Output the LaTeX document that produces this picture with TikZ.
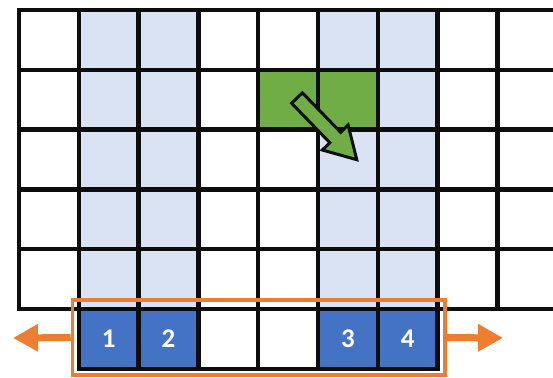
\documentclass[tikz,border=0pt]{standalone}
\usepackage{fontspec}
\setmainfont{Carlito}
\usetikzlibrary{arrows.meta}
\definecolor{lightblue}{HTML}{DAE3F3}
\definecolor{darkblue}{HTML}{4472C4}
\definecolor{greenc}{HTML}{70AD47}
\definecolor{orangec}{HTML}{ED7D31}
\definecolor{gridc}{HTML}{0D0D0D}
\tikzset{
  gridline/.style={draw=gridc, line width=4.5pt, line cap=rect},
  numcell/.style={fill=darkblue, minimum width=59.8pt, minimum height=59.8pt, inner sep=0pt, text=white, font=\bfseries\fontsize{27}{27}\selectfont},
  selbox/.style={draw=orangec, line width=3.5pt, minimum width=372.5pt, minimum height=75pt, inner sep=0pt},
  orangearrow/.style={draw=orangec, line width=7pt, -{Triangle[length=25pt,width=26pt]}},
  greenarrow/.style={fill=greenc, draw=gridc, line width=3pt, line join=miter}
}
\begin{document}
\begin{tikzpicture}[x={(1pt,0)}, y={(0,-1pt)}]
\path[use as bounding box] (0,0) rectangle (553,377);
\clip (0,0) rectangle (553,377);
\fill[white] (0,0) rectangle (553,377);
% light blue columns
\fill[lightblue] (78.8,10) rectangle (198.4,309);
\fill[lightblue] (318,10) rectangle (437.6,309);
% green cells
\fill[greenc] (258.2,69.8) rectangle (377.8,129.6);
% numbered cells
\node[numcell] (n1) at (108.7,338.9) {1};
\node[numcell] (n2) at (168.5,338.9) {2};
\node[numcell] (n3) at (347.9,338.9) {3};
\node[numcell] (n4) at (407.7,338.9) {4};
% upper grid
\foreach \x in {19,78.8,138.6,198.4,258.2,318,377.8,437.6,497.4}
  \draw[gridline] (\x,10) -- (\x,309);
\foreach \y in {10,69.8,129.6,189.4,249.2,309}
  \draw[gridline] (19,\y) -- (560,\y);
% bottom row
\foreach \x in {78.8,138.6,198.4,258.2,318,377.8,437.6}
  \draw[gridline] (\x,309) -- (\x,368.8);
\draw[gridline] (78.8,368.8) -- (437.6,368.8);
% green arrow
\draw[greenarrow] (291.6,103.2) -- (302.4,92.8) -- (340.6,132.3) -- (348.1,125) -- (356.8,159.7) -- (322.3,150) -- (329.8,142.7) -- cycle;
% selection box and arrows
\node[selbox] (sel) at (258.75,337.5) {};
\coordinate (lt) at (13,338);
\coordinate (rt) at (503,338);
\draw[orangearrow] (sel.west) -- (lt);
\draw[orangearrow] (sel.east) -- (rt);
\end{tikzpicture}
\end{document}
